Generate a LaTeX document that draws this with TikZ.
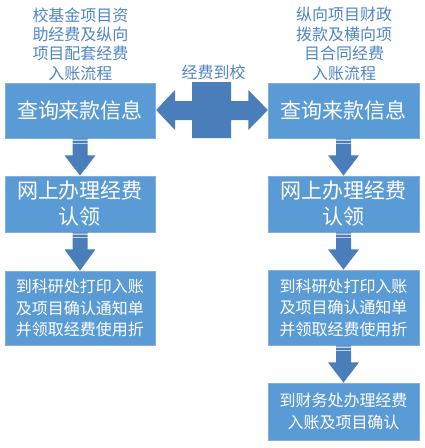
\documentclass[tikz,border=0pt]{standalone}
\usepackage{fontspec}
\setmainfont{Noto Sans CJK SC}
\usetikzlibrary{calc}
\definecolor{boxblue}{HTML}{5B9BD5}
\definecolor{boxedge}{HTML}{84AEDC}
\definecolor{arrblue}{HTML}{4A7EBB}
\definecolor{headblue}{HTML}{4F86C6}
\tikzset{
  box/.style={rectangle, fill=boxblue, draw=boxedge, line width=0.8pt, inner sep=0pt,
    text=white, align=center},
  bigbox/.style={box, font=\fontsize{21}{26}\selectfont},
  smallbox/.style={box, font=\fontsize{16}{21.5}\selectfont},
  heading/.style={text=headblue, align=center, inner sep=0pt, font=\fontsize{16}{19.4}\selectfont},
  arrfill/.style={fill=arrblue},
}
\newcommand\stripedown[2]{%
  \fill[arrfill] let \p1=(#1.south), \p2=(#2.north) in
    (\x1-7.5,\y1) rectangle (\x1+7.5,\y1-1.3)
    (\x1-7.5,\y1-2.1) rectangle (\x1+7.5,\y1-4.5)
    (\x1-7.5,\y1-5.3) -- (\x1+7.5,\y1-5.3) -- (\x1+7.5,\y1-17) -- (\x1+15.5,\y1-17)
    -- (\x1,\y2) -- (\x1-15.5,\y1-17) -- (\x1-7.5,\y1-17) -- cycle;}
\begin{document}
\begin{tikzpicture}[x=1pt,y=1pt]
\useasboundingbox (0,0) rectangle (425,-448);
\fill[white] (0,0) rectangle (425,-448);
% boxes
\node[bigbox, minimum width=150, minimum height=55] (b1L) at (80,-110.5) {查询来款信息};
\node[bigbox, minimum width=150, minimum height=56] (b2L) at (80,-204) {网上办理经费\\认领};
\node[smallbox, minimum width=150, minimum height=74] (b3L) at (80,-308) {到科研处打印入账\\及项目确认通知单\\并领取经费使用折};
\node[bigbox, minimum width=151, minimum height=55] (b1R) at (343.5,-110.5) {查询来款信息};
\node[bigbox, minimum width=151, minimum height=56] (b2R) at (343.5,-204) {网上办理经费\\认领};
\node[smallbox, minimum width=151, minimum height=75] (b3R) at (343.5,-307.5) {到科研处打印入账\\及项目确认通知单\\并领取经费使用折};
\node[smallbox, minimum width=151, minimum height=57] (b4R) at (343.5,-411.5) {到财务处办理经费\\入账及项目确认};
% headings
\node[heading] (hL) at (80.5,-44) {校基金项目资\\助经费及纵向\\项目配套经费\\入账流程};
\node[heading] (hR) at (344,-44) {纵向项目财政\\拨款及横向项\\目合同经费\\入账流程};
\node[heading] (hM) at (213.5,-72) {经费到校};
% down arrows
\stripedown{b1L}{b2L}
\stripedown{b2L}{b3L}
\stripedown{b1R}{b2R}
\stripedown{b2R}{b3R}
\stripedown{b3R}{b4R}
% double arrow
\fill[arrfill] let \p1=(b1L.east), \p2=(b1R.west), \n1={(\x1+\x2)/2} in
  (\x1+0.7,-110) -- (175,-90) -- (175,-101) -- (\n1-19.5,-101) -- (\n1-19.5,-82)
  -- (\n1+19.5,-82) -- (\n1+19.5,-101) -- (248.3,-101) -- (248.3,-90) -- (\x2+0.3,-110)
  -- (248.3,-130) -- (248.3,-120) -- (\n1+19.5,-120) -- (\n1+19.5,-138)
  -- (\n1-19.5,-138) -- (\n1-19.5,-120) -- (175,-120) -- (175,-130) -- cycle;
\end{tikzpicture}
\end{document}
